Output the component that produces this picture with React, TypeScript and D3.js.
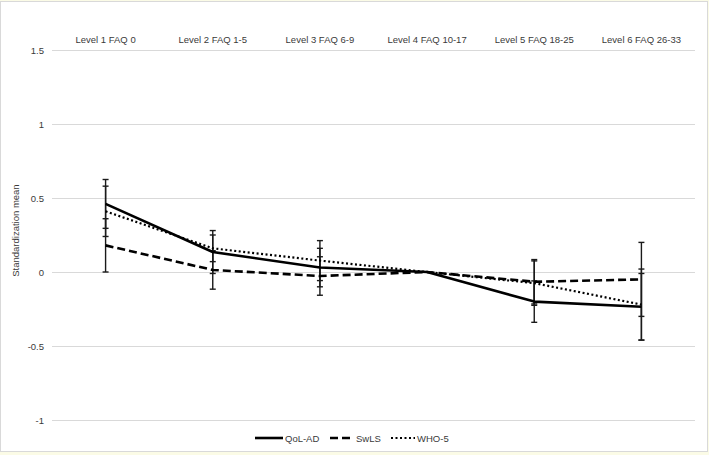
import React, { useEffect, useRef } from "react";
import * as d3 from "d3";

const categories = [
   "Level 1 FAQ 0",
   "Level 2 FAQ 1-5",
   "Level 3 FAQ 6-9",
   "Level 4 FAQ 10-17",
   "Level 5 FAQ 18-25",
   "Level 6 FAQ 26-33",
];

const seriesNames = ["QoL-AD", "SwLS", "WHO-5"];

// means
const qolMeans = [0.46, 0.135, 0.03, 0, -0.2, -0.235];
const swlsMeans = [0.18, 0.014, -0.027, 0, -0.066, -0.05];
const whoMeans = [0.41, 0.16, 0.077, 0, -0.075, -0.22];

// half-widths of the error bars (level 4 is the reference, no bar)
const qolErr = [0.165, 0.145, 0.13, 0, 0.14, 0.225];
const swlsErr = [0.18, 0.13, 0.13, 0, 0.15, 0.25];
const whoErr = [0.17, 0.09, 0.135, 0, 0.15, 0.24];

const yTicks = [1.5, 1, 0.5, 0, -0.5, -1];

const W = 709;
const H = 455;

const App = () => {
   const svgRef = useRef<SVGSVGElement>(null);

   useEffect(() => {
      const svg = d3.select(svgRef.current);
      svg.selectAll("*").remove();

      const font = "'Liberation Sans', Arial, sans-serif";
      const textColor = "#3a3a3a";

      // background + frame
      svg.append("rect").attr("width", W).attr("height", H).attr("fill", "#fbfbe6");
      svg
         .append("rect")
         .attr("x", 0.5)
         .attr("y", 1.5)
         .attr("width", 707)
         .attr("height", 450)
         .attr("fill", "white")
         .attr("stroke", "#d9d9d9");

      const x = d3.scaleBand().domain(categories).range([52, 695]);
      const cx = (c: string) => (x(c) as number) + x.bandwidth() / 2;
      const y = d3.scaleLinear().domain([-1, 1.5]).range([420, 50]);

      // gridlines
      svg.append("g")
         .selectAll("line")
         .data(yTicks)
         .enter()
         .append("line")
         .attr("x1", 52)
         .attr("x2", 695)
         .attr("y1", (d) => Math.round(y(d)) + 0.5)
         .attr("y2", (d) => Math.round(y(d)) + 0.5)
         .attr("stroke", "#d9d9d9")
         .attr("stroke-width", 1);

      // y tick labels
      svg.append("g")
         .selectAll("text")
         .data(yTicks)
         .enter()
         .append("text")
         .attr("x", 44)
         .attr("y", (d) => y(d) + 3.5)
         .attr("text-anchor", "end")
         .attr("font-family", font)
         .attr("font-size", 9.5)
         .attr("fill", textColor)
         .text((d) => String(d));

      // category labels at the top
      svg.append("g")
         .selectAll("text")
         .data(categories)
         .enter()
         .append("text")
         .attr("x", (d) => cx(d))
         .attr("y", 43)
         .attr("text-anchor", "middle")
         .attr("font-family", font)
         .attr("font-size", 9.5)
         .attr("fill", textColor)
         .text((d) => d);

      // y axis title
      svg
         .append("text")
         .attr("transform", `translate(19, ${y(0.28)}) rotate(-90)`)
         .attr("text-anchor", "middle")
         .attr("font-family", font)
         .attr("font-size", 9.5)
         .attr("fill", textColor)
         .text("Standardization mean");

      const series = [
         { name: seriesNames[0], means: qolMeans, err: qolErr, dash: null, width: 2.6 },
         { name: seriesNames[1], means: swlsMeans, err: swlsErr, dash: "8,4", width: 2.6 },
         { name: seriesNames[2], means: whoMeans, err: whoErr, dash: "2,2.5", width: 2.2 },
      ];

      // error bars
      const eb = svg.append("g").attr("stroke", "#1a1a1a").attr("stroke-width", 1.4);
      series.forEach((s) => {
         categories.forEach((c, i) => {
            if (s.err[i] === 0) return;
            const px = cx(c);
            const lo = y(s.means[i] - s.err[i]);
            const hi = y(s.means[i] + s.err[i]);
            eb.append("line").attr("x1", px).attr("x2", px).attr("y1", lo).attr("y2", hi);
            [lo, hi].forEach((yy) => {
               eb.append("line")
                  .attr("x1", px - 3)
                  .attr("x2", px + 3)
                  .attr("y1", yy)
                  .attr("y2", yy);
            });
         });
      });

      // series lines
      const line = d3
         .line<number>()
         .x((_, i) => cx(categories[i]))
         .y((d) => y(d));

      series.forEach((s) => {
         svg
            .append("path")
            .attr("d", line(s.means))
            .attr("fill", "none")
            .attr("stroke", "black")
            .attr("stroke-width", s.width)
            .attr("stroke-dasharray", s.dash)
            .attr("stroke-linejoin", "round");
      });

      // legend
      const legendX = [255, 330, 391];
      const keyLen = [28, 24, 24];
      const legendY = 438;
      series.forEach((s, i) => {
         const g = svg.append("g").attr("transform", `translate(${legendX[i]}, ${legendY})`);
         g.append("line")
            .attr("x1", 0)
            .attr("x2", keyLen[i])
            .attr("y1", 0)
            .attr("y2", 0)
            .attr("stroke", "black")
            .attr("stroke-width", s.width)
            .attr("stroke-dasharray", s.dash);
         g.append("text")
            .attr("x", keyLen[i] + 2)
            .attr("y", 3.5)
            .attr("font-family", font)
            .attr("font-size", 9.5)
            .attr("fill", textColor)
            .text(s.name);
      });
   }, []);

   return (
      <svg
         ref={svgRef}
         width={W}
         height={H}
         style={{ position: "absolute", left: 0, top: 0 }}
      ></svg>
   );
};

export default App;
